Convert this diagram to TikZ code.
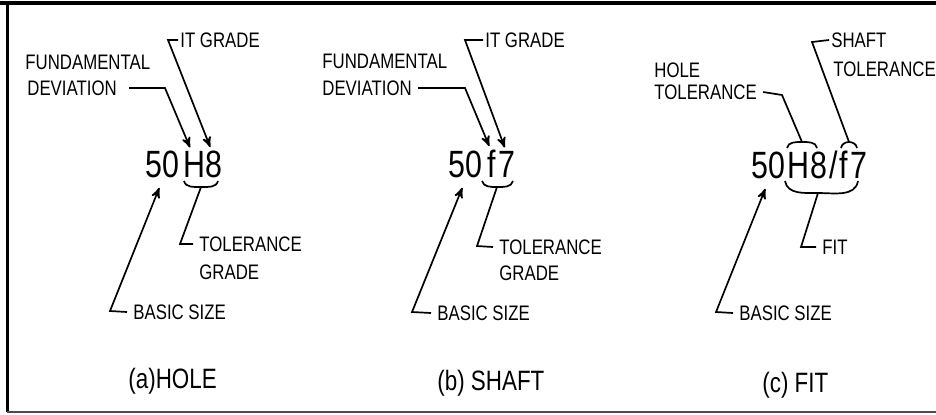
\documentclass[tikz,border=0pt]{standalone}
\usepackage{fontspec}
\setmainfont{Liberation Sans}[FakeStretch=0.8]
\usetikzlibrary{arrows,positioning}
\tikzset{
  tollabel/.style={inner sep=0pt,anchor=west,font=\fontsize{10.5}{12}\selectfont},
  codetext/.style={inner sep=0pt,font=\fontsize{19}{22}\selectfont},
  figcap/.style={inner sep=0pt,anchor=west,font=\fontsize{14}{16}\selectfont},
  leader/.style={line width=0.85pt}
}

\begin{document}
\begin{tikzpicture}[x=0.5pt,y=-0.5pt,>=stealth']
  \useasboundingbox (0,0) rectangle (936,414);
  % frame
  \draw[line width=2pt] (0,3) -- (936,3);
  \draw[line width=1.5pt] (7,3) -- (7,412);
  \draw[line width=1pt,black!70] (7,412) -- (936,412);

  % (a) hole
  \node[codetext,anchor=base west] (a50) at (145,177) {50};
  \node[codetext,base right=1.5pt of a50] (aH) {H};
  \node[codetext,base right=0pt of aH] (a8) {8};
  \node[tollabel] (itA) at (180,40) {IT GRADE};
  \node[tollabel] (fdA) at (25,62) {FUNDAMENTAL};
  \node[tollabel] (dvA) at (27,88) {DEVIATION};
  \node[tollabel] (tgA) at (199,244) {TOLERANCE};
  \node[tollabel] (grA) at (199,272) {GRADE};
  \node[tollabel] (bsA) at (133,312) {BASIC SIZE};
  \node[figcap] (capA) at (128,381) {(a)HOLE};
  \coordinate (itAk) at (168,40);
  \coordinate (dvAk) at (165,88);
  \coordinate (aBr) at (201,187);
  \coordinate (tgAk) at (180,244);
  \coordinate (bsAk) at (110,311);
  \draw[leader,->] ([xshift=-1pt]itA.west) -- (itAk) -- ([xshift=-2pt,yshift=1.5pt]a8.north);
  \draw[leader,->] ([xshift=6pt]dvA.east) -- (dvAk) -- ([xshift=-2pt,yshift=1.5pt]aH.north);
  \draw[leader] (184,181) to[out=-75,in=180] (aBr) to[out=0,in=-105] (218,181);
  \draw[leader] ([xshift=-3pt]tgA.west) -- (tgAk) -- (aBr);
  \draw[leader,->] ([xshift=-3pt]bsA.west) -- (bsAk) -- ([xshift=-1.5pt,yshift=-5pt]a50.south);

  % (b) shaft
  \node[codetext,anchor=base west] (b50) at (448,177) {50};
  \node[codetext,base right=2pt of b50] (bf) {f};
  \node[codetext,base right=1pt of bf] (b7) {7};
  \node[tollabel] (itB) at (485,40) {IT GRADE};
  \node[tollabel] (fdB) at (322,61) {FUNDAMENTAL};
  \node[tollabel] (dvB) at (322,88) {DEVIATION};
  \node[tollabel] (tgB) at (499,247) {TOLERANCE};
  \node[tollabel] (grB) at (499,273) {GRADE};
  \node[tollabel] (bsB) at (437,313) {BASIC SIZE};
  \node[figcap] (capB) at (437,383) {(b) SHAFT};
  \coordinate (itBk) at (465,40);
  \coordinate (dvBk) at (465,88);
  \coordinate (bBr) at (497,187);
  \coordinate (tgBk) at (477,246);
  \coordinate (bsBk) at (412,312);
  \draw[leader,->] ([xshift=-1pt]itB.west) -- (itBk) -- ([xshift=-1pt,yshift=1.5pt]b7.north);
  \draw[leader,->] ([xshift=3pt]dvB.east) -- (dvBk) -- ([xshift=-1pt,yshift=1.5pt]bf.north);
  \draw[leader] (482,181) to[out=-75,in=180] (bBr) to[out=0,in=-105] (513,181);
  \draw[leader] ([xshift=-3pt]tgB.west) -- (tgBk) -- (bBr);
  \draw[leader,->] ([xshift=-3pt]bsB.west) -- (bsBk) -- ([xshift=-1.5pt,yshift=-5pt]b50.south);

  % (c) fit
  \node[codetext,anchor=base west] (c50) at (751,178) {50};
  \node[codetext,base right=0.8pt of c50] (cH) {H};
  \node[codetext,base right=0pt of cH] (c8) {8};
  \node[codetext,base right=0.5pt of c8] (cSl) {/};
  \node[codetext,base right=0.5pt of cSl] (cf) {f};
  \node[codetext,base right=1pt of cf] (c7) {7};
  \node[tollabel] (hlC) at (654,70) {HOLE};
  \node[tollabel] (htC) at (654,92) {TOLERANCE};
  \node[tollabel] (sfC) at (831,40) {SHAFT};
  \node[tollabel] (stC) at (833,69) {TOLERANCE};
  \node[tollabel] (ftC) at (822,247) {FIT};
  \node[tollabel] (bsC) at (739,313) {BASIC SIZE};
  \node[figcap] (capC) at (762,385) {(c) FIT};
  \coordinate (cHb) at (802,142);
  \coordinate (cFb) at (849,142);
  \coordinate (cBr) at (818,193);
  \coordinate (htCk) at (782,95);
  \coordinate (sfCk) at (812,42);
  \coordinate (ftCk) at (801,247);
  \coordinate (bsCk) at (716,312);
  \draw[leader] (787,148) to[out=80,in=180] (cHb) to[out=0,in=100] (817,148);
  \draw[leader] (841,148) to[out=80,in=180] (cFb) to[out=0,in=100] (857,148);
  \draw[leader] (785,181) to[out=-80,in=180] (cBr) to[out=0,in=-100] (858,181);
  \draw[leader] ([xshift=3pt]htC.east) -- (htCk) -- (cHb);
  \draw[leader] ([xshift=-1pt]sfC.west) -- (sfCk) -- (cFb);
  \draw[leader] ([xshift=-3pt]ftC.west) -- (ftCk) -- (cBr);
  \draw[leader,->] ([xshift=-3pt]bsC.west) -- (bsCk) -- ([xshift=-1.5pt,yshift=-5pt]c50.south);
\end{tikzpicture}
\end{document}
